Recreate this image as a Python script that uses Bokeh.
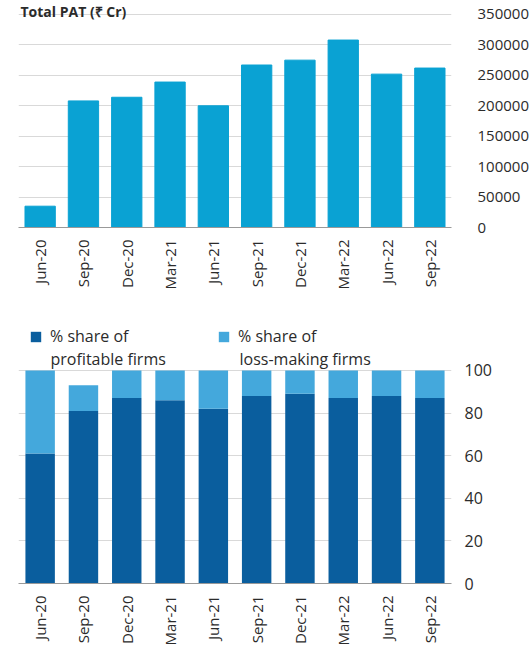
from bokeh.plotting import figure
from bokeh.models import (Range1d, FactorRange, LinearAxis, Label, Legend, LegendItem,
                          FixedTicker, ColumnDataSource, BasicTickFormatter)
from bokeh.layouts import column
from bokeh.embed import file_html
from bokeh.resources import INLINE

quarters = ["Jun-20", "Sep-20", "Dec-20", "Mar-21", "Jun-21",
            "Sep-21", "Dec-21", "Mar-22", "Jun-22", "Sep-22"]
total_pat = [35000, 208000, 214000, 239000, 200000,
             267000, 275000, 308000, 252000, 262000]
profitable_share = [61, 81, 87, 86, 82, 88, 89, 87, 88, 87]
lossmaking_share = [39, 12, 13, 14, 18, 12, 11, 13, 12, 13]
top_ticks = [0, 50000, 100000, 150000, 200000, 250000, 300000, 350000]
bottom_ticks = [0, 20, 40, 60, 80, 100]

FONT = "Open Sans"
TEXT = "#2b2b2b"
GRID = "#d9d9d9"

# ---------------- top chart ----------------
p1 = figure(x_range=FactorRange(*quarters, range_padding=0), y_range=Range1d(0, 373000),
            width=531, height=300, output_backend="svg", toolbar_location=None,
            min_border_top=0, min_border_bottom=73, min_border_left=14, min_border_right=75)
p1.vbar(x=quarters, top=total_pat, width=0.7, color="#0aa2d3")
p1.yaxis.visible = False
p1.outline_line_color = None
p1.xgrid.grid_line_color = None
p1.ygrid.grid_line_color = GRID
p1.ygrid.ticker = FixedTicker(ticks=top_ticks)
ax1 = LinearAxis(ticker=FixedTicker(ticks=top_ticks),
                 formatter=BasicTickFormatter(use_scientific=False))
ax1.axis_line_color = None
ax1.major_tick_line_color = None
ax1.minor_tick_line_color = None
ax1.major_label_standoff = 20
ax1.major_label_text_font = FONT
ax1.major_label_text_font_size = "15px"
ax1.major_label_text_color = TEXT
p1.add_layout(ax1, "right")
xa1 = p1.xaxis[0]
xa1.major_label_orientation = 1.5708
xa1.axis_line_color = "#999999"
xa1.major_tick_line_color = None
xa1.major_label_standoff = 6
xa1.major_label_text_font = FONT
xa1.major_label_text_font_size = "15px"
xa1.major_label_text_color = TEXT
p1.add_layout(Label(x=2, y=226, x_units="screen", y_units="screen",
                    text="Total PAT (₹ Cr)", text_font=FONT, text_font_size="14px",
                    text_font_style="bold", text_color=TEXT, text_baseline="top"))

# ---------------- bottom chart ----------------
src = ColumnDataSource(dict(q=quarters, prof=profitable_share, loss=lossmaking_share))
p2 = figure(x_range=FactorRange(*quarters, range_padding=0), y_range=Range1d(0, 132.8),
            width=531, height=351, output_backend="svg", toolbar_location=None,
            min_border_top=0, min_border_bottom=68, min_border_left=18, min_border_right=71)
rs = p2.vbar_stack(["prof", "loss"], x="q", width=0.68, source=src,
                   color=["#0a5e9e", "#44a8dc"], line_color=None)
p2.yaxis.visible = False
p2.outline_line_color = None
p2.xgrid.grid_line_color = None
p2.ygrid.grid_line_color = GRID
p2.ygrid.ticker = FixedTicker(ticks=bottom_ticks)
ax2 = LinearAxis(ticker=FixedTicker(ticks=bottom_ticks))
ax2.axis_line_color = None
ax2.major_tick_line_color = None
ax2.minor_tick_line_color = None
ax2.major_label_standoff = 7
ax2.major_label_text_font = FONT
ax2.major_label_text_font_size = "16px"
ax2.major_label_text_color = TEXT
p2.add_layout(ax2, "right")
xa2 = p2.xaxis[0]
xa2.major_label_orientation = 1.5708
xa2.axis_line_color = "#999999"
xa2.major_tick_line_color = None
xa2.major_label_standoff = 6
xa2.major_label_text_font = FONT
xa2.major_label_text_font_size = "15px"
xa2.major_label_text_color = TEXT

for r, lx in [(rs[0], 11), (rs[1], 199)]:
    lg = Legend(items=[LegendItem(label="% share of", renderers=[r])],
                location=(lx, 236), orientation="horizontal",
                glyph_width=13, glyph_height=13, label_standoff=8,
                padding=0, margin=0, spacing=0, border_line_color=None,
                background_fill_alpha=0, label_text_font=FONT,
                label_text_font_size="16px", label_text_color=TEXT,
                label_height=13)
    p2.add_layout(lg)
p2.add_layout(Label(x=32, y=225, x_units="screen", y_units="screen",
                    text="profitable firms", text_font=FONT, text_font_size="16px",
                    text_color=TEXT, text_baseline="middle"))
p2.add_layout(Label(x=221, y=225, x_units="screen", y_units="screen",
                    text="loss-making firms", text_font=FONT, text_font_size="16px",
                    text_color=TEXT, text_baseline="middle"))

layout = column(p1, p2, spacing=0)
open("out.html", "w").write(file_html(layout, INLINE))
